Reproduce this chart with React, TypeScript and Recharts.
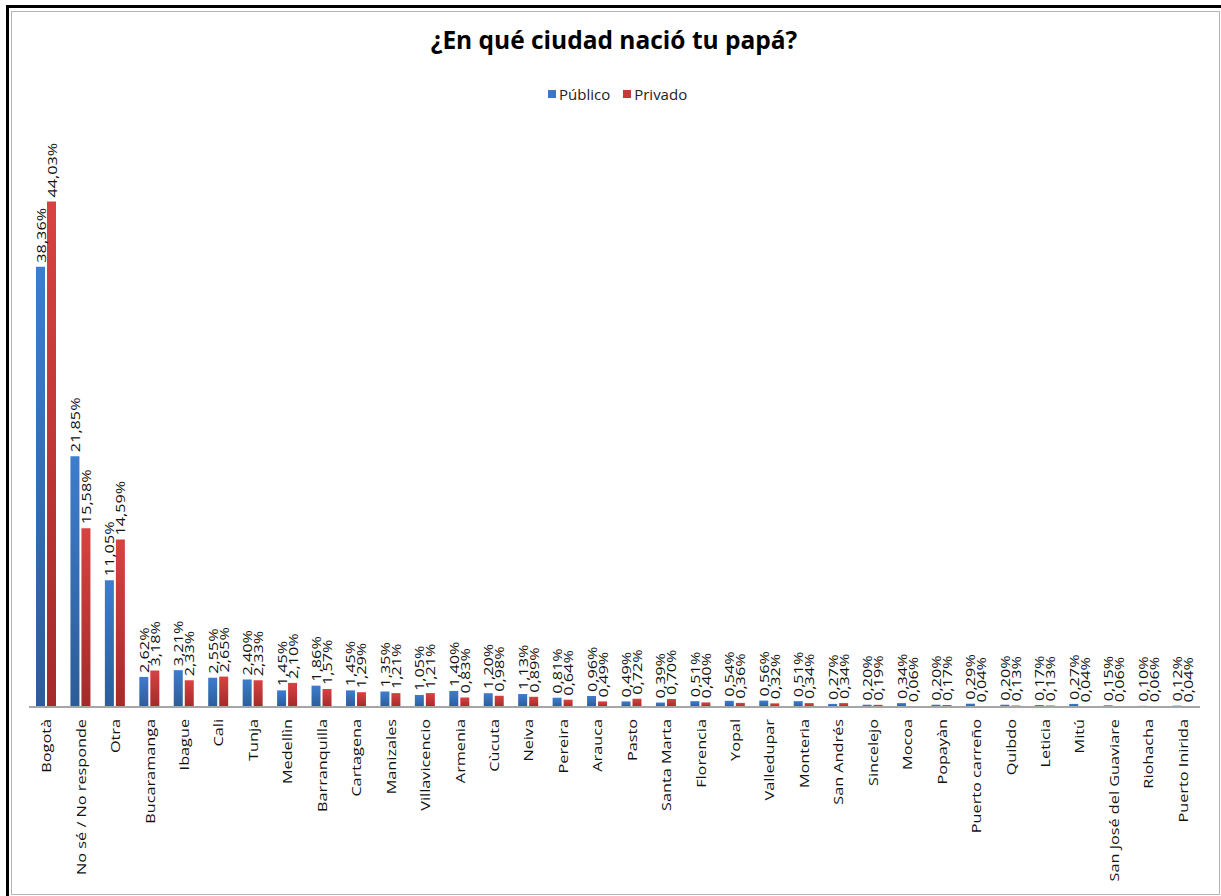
import React from 'react';
import { BarChart, Bar, XAxis, YAxis, LabelList } from 'recharts';

const cities = [
  'Bogotà', 'No sé / No responde', 'Otra', 'Bucaramanga', 'Ibague', 'Cali', 'Tunja', 'Medellìn',
  'Barranquilla', 'Cartagena', 'Manizales', 'Villavicencio', 'Armenia', 'Cùcuta', 'Neiva', 'Pereira',
  'Arauca', 'Pasto', 'Santa Marta', 'Florencia', 'Yopal', 'Valledupar', 'Monteria', 'San Andrés',
  'Sincelejo', 'Mocoa', 'Popayàn', 'Puerto carreño', 'Quibdo', 'Leticia', 'Mitú',
  'San José del Guaviare', 'Riohacha', 'Puerto Inirida',
];

const publico = [
  38.36, 21.85, 11.05, 2.62, 3.21, 2.55, 2.40, 1.45,
  1.86, 1.45, 1.35, 1.05, 1.40, 1.20, 1.13, 0.81,
  0.96, 0.49, 0.39, 0.51, 0.54, 0.56, 0.51, 0.27,
  0.20, 0.34, 0.20, 0.29, 0.20, 0.17, 0.27,
  0.15, 0.10, 0.12,
];

const privado = [
  44.03, 15.58, 14.59, 3.18, 2.33, 2.65, 2.33, 2.10,
  1.57, 1.29, 1.21, 1.21, 0.83, 0.98, 0.89, 0.64,
  0.49, 0.72, 0.70, 0.40, 0.36, 0.32, 0.34, 0.34,
  0.19, 0.06, 0.17, 0.04, 0.13, 0.13, 0.04,
  0.06, 0.06, 0.04,
];

const data = cities.map((city, i) => ({ city, publico: publico[i], privado: privado[i] }));

const fmt = (v: number) => v.toFixed(2).replace('.', ',') + '%';

const CityTick = (props: any) => {
  const { x, y, payload } = props;
  return (
    <text
      transform={`translate(${x + 5},${y + 4}) rotate(-90) scale(1.25,1)`}
      textAnchor="end"
      fontSize={13}
      fontFamily="Open Sans"
      fill="#111"
    >
      {payload.value}
    </text>
  );
};

const ValueLabel = (props: any) => {
  const { x, y, width, value } = props;
  const cx = x + width / 2;
  return (
    <text
      transform={`translate(${cx + 5},${y - 4}) rotate(-90) scale(1.25,1)`}
      textAnchor="start"
      fontSize={13}
      fontFamily="Open Sans"
      fill="#111"
    >
      {fmt(value)}
    </text>
  );
};

export default function App() {
  return (
    <div style={{ position: 'absolute', left: 0, top: 0, width: 1221, height: 896, background: '#fff', overflow: 'hidden' }}>
      <svg width={0} height={0} style={{ position: 'absolute' }}>
        <defs>
          <linearGradient id="gBlue" x1="0" y1="0" x2="0" y2="1">
            <stop offset="0%" stopColor="#3d7dce" />
            <stop offset="100%" stopColor="#2d5c98" />
          </linearGradient>
          <linearGradient id="gRed" x1="0" y1="0" x2="0" y2="1">
            <stop offset="0%" stopColor="#d84242" />
            <stop offset="100%" stopColor="#a42a2a" />
          </linearGradient>
        </defs>
      </svg>
      {/* outer frame */}
      <div style={{ position: 'absolute', left: 6, top: 5, width: 1221, height: 900, borderLeft: '3px solid #000', borderTop: '3px solid #000' }} />
      <div style={{ position: 'absolute', left: 11, top: 11, width: 1207, height: 882, border: '1px solid #b4b4b4' }} />

      <div style={{ position: 'absolute', left: 0, top: 23, width: 1228, textAlign: 'center', fontFamily: 'Open Sans', fontWeight: 700, fontSize: 24.5, color: '#000' }}>
        ¿En qué ciudad nació tu papá?
      </div>
      <div style={{ position: 'absolute', left: 548, top: 84, display: 'flex', alignItems: 'center', fontFamily: 'Open Sans', fontSize: 15, color: '#222' }}>
        <span style={{ width: 8, height: 8, background: '#3a76c4', display: 'inline-block', marginRight: 3 }} />
        <span>Público</span>
        <span style={{ width: 8, height: 8, background: '#c83a3a', display: 'inline-block', marginLeft: 13, marginRight: 3 }} />
        <span>Privado</span>
      </div>

      <div style={{ position: 'absolute', left: 0, top: 0 }}>
        <BarChart
          width={1221}
          height={896}
          data={data}
          margin={{ top: 156, right: 21, bottom: 9, left: 29 }}
          barSize={9}
          barGap={2}
        >
          <XAxis
            dataKey="city"
            interval={0}
            height={180}
            tickLine={false}
            axisLine={{ stroke: '#a6a6a6', strokeWidth: 2 }}
            tick={<CityTick />}
          />
          <YAxis hide domain={[0, 48]} />
          <Bar dataKey="publico" fill="url(#gBlue)" isAnimationActive={false}>
            <LabelList dataKey="publico" content={<ValueLabel />} />
          </Bar>
          <Bar dataKey="privado" fill="url(#gRed)" isAnimationActive={false}>
            <LabelList dataKey="privado" content={<ValueLabel />} />
          </Bar>
        </BarChart>
      </div>
    </div>
  );
}
